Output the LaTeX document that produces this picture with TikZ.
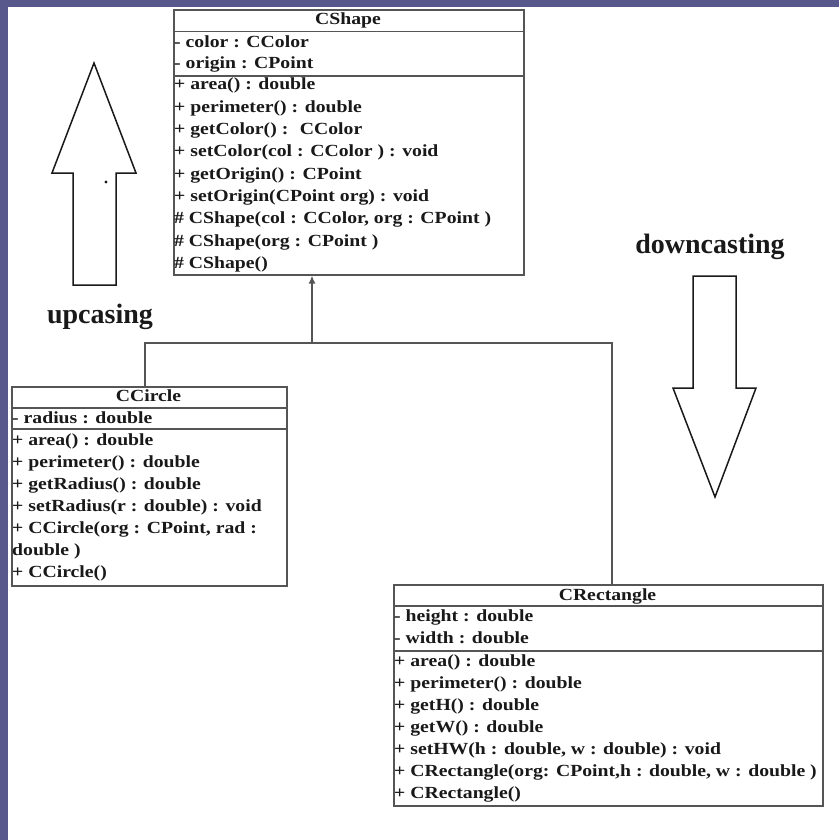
\documentclass[tikz,border=0pt]{standalone}
\usepackage{fontspec}
\setmainfont{Liberation Serif}[FakeStretch=1.16]
\newfontfamily\labelfont{Liberation Serif}
\usetikzlibrary{arrows.meta}
\definecolor{frame}{RGB}{88,88,140}
\definecolor{boxline}{RGB}{85,85,85}
\definecolor{ink}{RGB}{25,25,25}
\tikzset{
  classbox/.style={draw=boxline, line width=1.6pt, inner sep=0pt, anchor=north west},
  sepline/.style={draw=boxline, line width=1.6pt},
  member/.style={anchor=base west, inner sep=0pt, text=ink, font=\fontsize{17}{22}\selectfont\bfseries},
  ctitle/.style={anchor=base, inner sep=0pt, text=ink, font=\fontsize{17}{22}\selectfont\bfseries},
  biglabel/.style={anchor=base, inner sep=0pt, text=ink, font=\labelfont\fontsize{28}{32}\selectfont\bfseries},
  blockarrow/.style={draw=ink, line width=1.5pt, fill=white, line join=miter},
  conn/.style={draw=boxline, line width=1.4pt},
}
\begin{document}
\begin{tikzpicture}[x=1pt,y=-1pt]
\useasboundingbox (0,0) rectangle (839,840);
\fill[white] (0,0) rectangle (839,840);
\fill[frame] (0,0) rectangle (8,840);
\fill[frame] (0,0) rectangle (839,7);

% block arrows
\draw[blockarrow] (94,63) -- (136,173) -- (116,173) -- (116,285) -- (73,285) -- (73,173) -- (52,173) -- cycle;
\fill[ink] (106,182) circle (1.6);
\draw[blockarrow] (693,276) -- (736,276) -- (736,388) -- (756,388) -- (715,497) -- (673,388) -- (693,388) -- cycle;

\node[biglabel] (up) at (100,323) {upcasing};
\node[biglabel] (down) at (710,253) {downcasting};

% CShape
\node[classbox, minimum width=350pt, minimum height=264.5pt] (cshape) at (173,9.5) {};
\draw[sepline] (173,31.5) -- (523,31.5);
\draw[sepline] (173,76) -- (523,76);
\node[ctitle] (cshape-t) at (348,25) {CShape};
\foreach \yy/\tt [count=\i] in {47.3/{- color : CColor}, 68.5/{- origin : CPoint}}
  \node[member] (cshape-a\i) at (174,\yy) {\tt};
\foreach \yy/\tt [count=\i] in {90/{+ area() : double}, 112.3/{+ perimeter() : double}, 134.6/{+ getColor() : \ CColor}, 156.9/{+ setColor(col : CColor ) : void}, 179.2/{+ getOrigin() : CPoint}, 201.5/{+ setOrigin(CPoint org) : void}, 223.8/{\# CShape(col : CColor, org : CPoint )}, 246.1/{\# CShape(org : CPoint )}, 268.4/{\# CShape()}}
  \node[member] (cshape-m\i) at (174,\yy) {\tt};

% CCircle
\node[classbox, minimum width=275pt, minimum height=199pt] (ccircle) at (11,386) {};
\draw[sepline] (11,408) -- (286,408);
\draw[sepline] (11,429) -- (286,429);
\node[ctitle] (ccircle-t) at (148.5,401.5) {CCircle};
\node[member] (ccircle-a1) at (12,423) {- radius : double};
\foreach \yy/\tt [count=\i] in {445/{+ area() : double}, 467/{+ perimeter() : double}, 489/{+ getRadius() : double}, 511/{+ setRadius(r : double) : void}, 533/{+ CCircle(org : CPoint, rad :}, 555/{double )}, 577/{+ CCircle()}}
  \node[member] (ccircle-m\i) at (12,\yy) {\tt};

% CRectangle
\node[classbox, minimum width=429pt, minimum height=221pt] (crect) at (393,584) {};
\draw[sepline] (393,606) -- (822,606);
\draw[sepline] (393,651) -- (822,651);
\node[ctitle] (crect-t) at (607.5,600) {CRectangle};
\foreach \yy/\tt [count=\i] in {621.5/{- height : double}, 643.5/{- width : double}}
  \node[member] (crect-a\i) at (394,\yy) {\tt};
\foreach \yy/\tt [count=\i] in {666/{+ area() : double}, 688/{+ perimeter() : double}, 710/{+ getH() : double}, 732/{+ getW() : double}, 754/{+ setHW(h : double, w : double) : void}, 776/{+ CRectangle(org: CPoint,h : double, w : double )}, 798/{+ CRectangle()}}
  \node[member] (crect-m\i) at (394,\yy) {\tt};

% generalization connectors
\coordinate (jm) at (312,343);
\coordinate (jl) at (145,343);
\coordinate (jr) at (612,343);
\draw[conn, -{Latex[length=8pt,width=7pt]}] (jm) -- (jm |- cshape.south);
\draw[conn] (jl |- ccircle.north) -- (jl) -- (jr) -- (jr |- crect.north);
\end{tikzpicture}
\end{document}
